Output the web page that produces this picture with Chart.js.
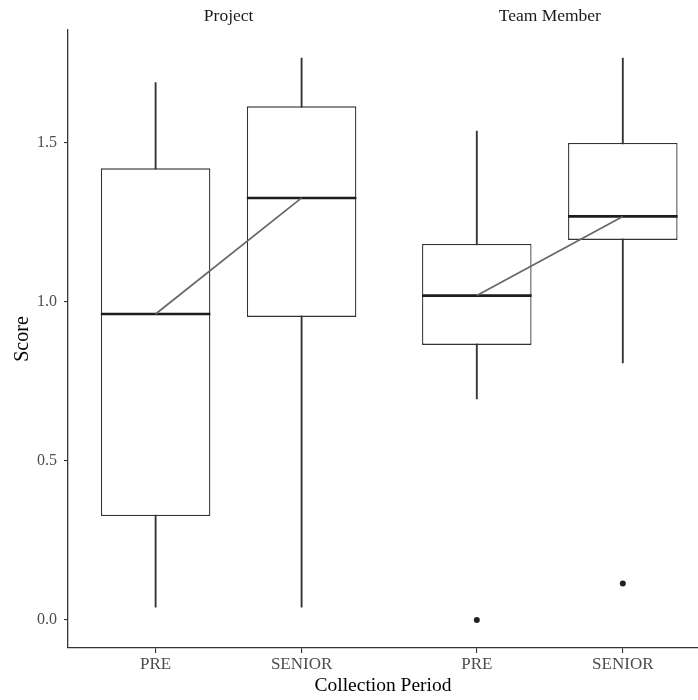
<!DOCTYPE html>
<html><head><meta charset="utf-8">
<script src="https://cdn.jsdelivr.net/npm/chart.js@4/dist/chart.umd.min.js"></script>
<style>html,body{margin:0;padding:0;background:#fff}canvas{display:block}</style>
</head><body>
<canvas id="c" width="698" height="700"></canvas>
<script>
// ---- data ----
const panels = ['Project', 'Team Member'];
const periods = ['PRE', 'SENIOR'];
// one entry per (panel, period): Project PRE, Project SENIOR, Team PRE, Team SENIOR
const whiskerLow  = [0.040, 0.040, 0.695, 0.808];
const q1          = [0.327, 0.953, 0.865, 1.195];
const median      = [0.962, 1.327, 1.020, 1.269];
const q3          = [1.420, 1.615, 1.182, 1.500];
const whiskerHigh = [1.690, 1.767, 1.537, 1.767];
const outliers    = [[], [], [0.0], [0.115]];
const yTicks = [0, 0.5, 1.0, 1.5];

// ---- layout helpers ----
const FONT = '"Liberation Serif", "DejaVu Serif", serif';
const PANEL_GAP = 0.2;
const BOX_FRAC = 0.75;
function xPos(p, c) { return 1 + p * (periods.length + PANEL_GAP) + c; }
const rows = [];
panels.forEach((pn, p) => periods.forEach((pd, c) => rows.push({ p, c, x: xPos(p, c), i: p * periods.length + c })));
const tickPositions = rows.map(r => r.x);

const datasets = [];
// connecting median lines (one per panel)
panels.forEach((pn, p) => {
  datasets.push({
    type: 'line',
    data: rows.filter(r => r.p === p).map(r => ({ x: r.x, y: median[r.i] })),
    borderColor: '#676767', borderWidth: 1.7, pointRadius: 0, fill: false, order: 0
  });
});
// medians
datasets.push({
  type: 'scatter',
  data: rows.map(r => ({ x: r.x, y: median[r.i] })),
  pointStyle: 'line',
  pointRadius: ctx => { const s = ctx.chart.scales.x; const r = Math.abs(s.getPixelForValue(1 + BOX_FRAC / 2) - s.getPixelForValue(1)); return isFinite(r) ? r : 0; },
  pointBorderColor: '#1c1c1c', pointBorderWidth: 2.6, order: 1
});
// outliers
datasets.push({
  type: 'scatter',
  data: rows.flatMap(r => outliers[r.i].map(v => ({ x: r.x, y: v }))),
  pointRadius: 3, pointBackgroundColor: '#222', pointBorderWidth: 0, order: 1
});
// boxes
datasets.push({
  type: 'bar',
  data: rows.map(r => ({ x: r.x, y: [q1[r.i], q3[r.i]] })),
  backgroundColor: '#ffffff', borderColor: '#333333', borderWidth: 1.3, borderSkipped: false,
  grouped: false, categoryPercentage: 1, barPercentage: BOX_FRAC, order: 2
});
// whiskers
datasets.push({
  type: 'bar',
  data: rows.map(r => ({ x: r.x, y: [whiskerLow[r.i], whiskerHigh[r.i]] })),
  backgroundColor: '#333333', borderWidth: 0, barThickness: 1.2, grouped: false, order: 3
});

const stripPlugin = {
  id: 'strips',
  afterDraw(chart) {
    const ctx = chart.ctx, s = chart.scales.x;
    ctx.save();
    ctx.font = '17.5px ' + FONT;
    ctx.fillStyle = '#1a1a1a';
    ctx.textAlign = 'center';
    ctx.textBaseline = 'middle';
    panels.forEach((pn, p) => {
      const xs = rows.filter(r => r.p === p).map(r => r.x);
      const cx = s.getPixelForValue(xs.reduce((a, b) => a + b, 0) / xs.length);
      ctx.fillText(pn, cx, 16);
    });
    ctx.restore();
  }
};

new Chart(document.getElementById('c'), {
  type: 'bar',
  data: { datasets },
  plugins: [stripPlugin],
  options: {
    responsive: false, animation: false, events: [],
    layout: { autoPadding: false, padding: { top: 30, right: 0, left: 0, bottom: 0 } },
    plugins: { legend: { display: false }, tooltip: { enabled: false } },
    scales: {
      x: {
        type: 'linear', min: 0.4, max: 4.715, offset: false,
        grid: { display: true, drawOnChartArea: false, offset: false, tickLength: 5, color: '#333', lineWidth: 1.1 },
        border: { display: true, color: '#333', width: 1.3 },
        afterBuildTicks: s => { s.ticks = tickPositions.map(v => ({ value: v })); },
        afterFit: s => { s.height = 52; },
        ticks: {
          autoSkip: false, maxRotation: 0, padding: 1, color: '#4d4d4d',
          font: { family: FONT, size: 17 },
          callback: (v) => { const k = tickPositions.findIndex(t => Math.abs(t - v) < 1e-6); return k < 0 ? '' : periods[rows[k].c]; }
        },
        title: { display: true, text: 'Collection Period', color: '#000', font: { family: FONT, size: 19.5 }, padding: { top: 0, bottom: 2 } }
      },
      y: {
        type: 'linear', min: -0.088, max: 1.855,
        grid: { display: true, drawOnChartArea: false, tickLength: 4, color: '#333', lineWidth: 1.1 },
        border: { display: true, color: '#333', width: 1.3 },
        afterBuildTicks: s => { s.ticks = yTicks.map(v => ({ value: v })); },
        afterFit: s => { s.width = 68; },
        ticks: { padding: 7, color: '#4d4d4d', font: { family: FONT, size: 16 }, callback: v => Number(v).toFixed(1) },
        title: { display: true, text: 'Score', color: '#000', font: { family: FONT, size: 20 }, padding: { top: 11, bottom: 0 } }
      }
    }
  }
});
</script>
</body></html>
